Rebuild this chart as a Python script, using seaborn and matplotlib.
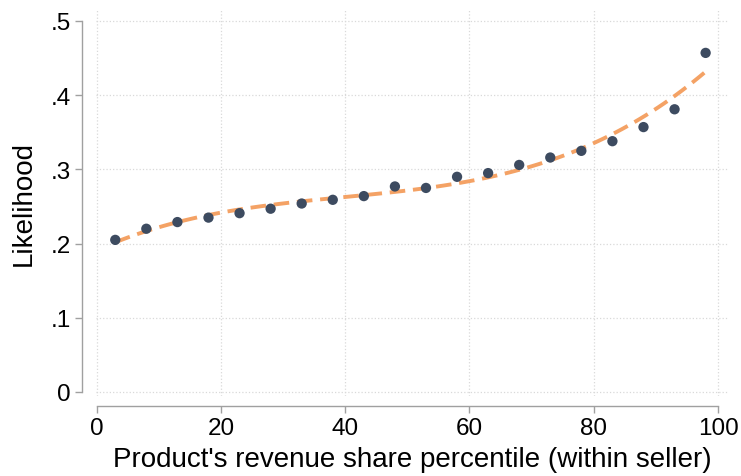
import numpy as np
import pandas as pd
import seaborn as sns
import matplotlib.pyplot as plt
from matplotlib.ticker import FuncFormatter

# binned percentiles and likelihood
percentile = [3, 8, 13, 18, 23, 28, 33, 38, 43, 48,
              53, 58, 63, 68, 73, 78, 83, 88, 93, 98]
likelihood = [.205, .220, .229, .235, .241, .247, .254, .259, .264, .277,
              .275, .290, .295, .306, .316, .325, .338, .357, .381, .457]

data = pd.DataFrame({'pct': percentile, 'lik': likelihood})

sns.set_style('white', {'text.color': 'black', 'axes.labelcolor': 'black'})
plt.rcParams['font.family'] = ['Liberation Sans', 'DejaVu Sans']

fig = plt.figure(figsize=(7.41, 4.77), dpi=100)
ax = fig.add_axes([96 / 741, 1 - 397 / 477, (728 - 96) / 741, (397 - 11) / 477])

# fitted curve
sns.regplot(data=data, x='pct', y='lik', order=3, ci=None, scatter=False, ax=ax,
            line_kws=dict(color='#f4a265', lw=2.8, ls=(0, (4, 2))))
sns.scatterplot(data=data, x='pct', y='lik', color='#3d4b60', s=55,
                edgecolor='none', ax=ax, zorder=3)

ax.set_xlim(-0.1, 101.6)
ax.set_ylim(-0.0054, 0.5148)
ax.set_xticks(range(0, 101, 20))
ax.set_yticks([0, .1, .2, .3, .4, .5])
ax.yaxis.set_major_formatter(FuncFormatter(lambda v, p: '0' if v == 0 else f'{v:.1f}'.lstrip('0')))
ax.grid(True, color='#d9d9d9', ls=':', lw=0.9)

for s in ['top', 'right']:
    ax.spines[s].set_visible(False)
ax.spines['left'].set_position(('outward', 10))
ax.spines['bottom'].set_position(('outward', 7))
ax.spines['left'].set_bounds(0, .5)
ax.spines['bottom'].set_bounds(0, 100)
for s in ['left', 'bottom']:
    ax.spines[s].set_color('#a0a0a0')
    ax.spines[s].set_linewidth(1.0)
ax.tick_params(axis='both', direction='out', length=5, width=1, color='#a0a0a0',
               labelsize=17.5, labelcolor='black', left=True, bottom=True, pad=3)

ax.set_xlabel("Product's revenue share percentile (within seller)", fontsize=20,
              labelpad=5, color='black')
ax.set_ylabel('Likelihood', fontsize=20, labelpad=10, color='black')

fig.savefig('out.png', dpi=100)
